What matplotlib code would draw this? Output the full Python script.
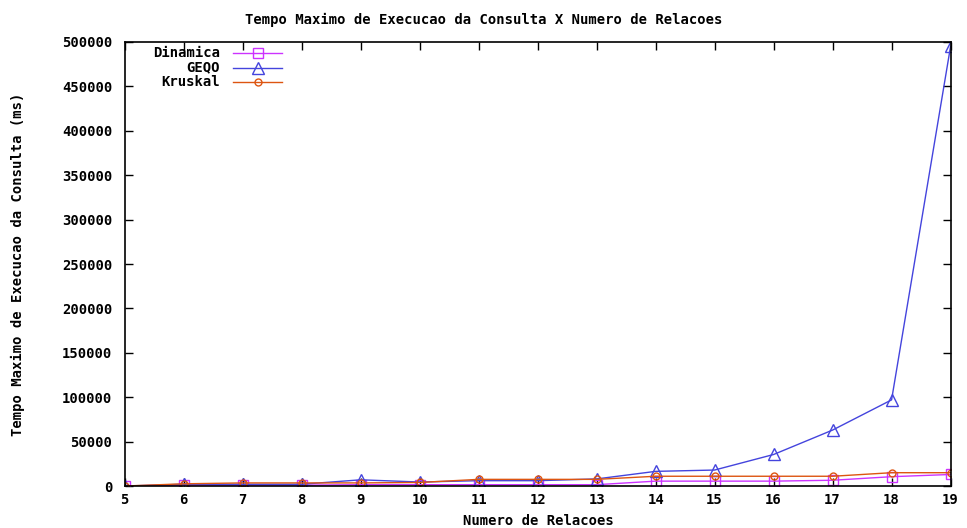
import matplotlib
matplotlib.use("Agg")
import matplotlib.pyplot as plt
from matplotlib.lines import Line2D
from matplotlib.font_manager import FontProperties

# numero de relacoes e tempo maximo (ms) de cada algoritmo
relacoes = [5, 6, 7, 8, 9, 10, 11, 12, 13, 14, 15, 16, 17, 18, 19]
dinamica = [0, 1000, 1000, 1000, 1500, 1500, 1500, 1500, 1500, 5500, 5500, 5500, 6500, 10500, 13000]
geqo = [0, 2000, 2000, 2000, 7000, 4500, 6000, 6000, 8000, 16500, 18000, 35500, 63000, 97000, 495000]
kruskal = [0, 2500, 3500, 3500, 3500, 4000, 7500, 7500, 7500, 11000, 11000, 11000, 11000, 15000, 15000]

fonte = {"family": "DejaVu Sans Mono", "weight": "bold", "size": 10}

fig = plt.figure(figsize=(9.67, 5.28), dpi=100)
ax = fig.add_axes([0.129, 0.0795, 0.854, 0.841])

series = [
    ("Dinamica", dinamica, "#cc33ff", "s", 7),
    ("GEQO", geqo, "#4444dd", "^", 8),
    ("Kruskal", kruskal, "#dd5511", "o", 5),
]
for nome, valores, cor, marca, tam in series:
    ax.plot(relacoes, valores, color=cor, lw=1, marker=marca, ms=tam,
            mfc="none", mec=cor, mew=1)

ax.set_xlim(5, 19)
ax.set_ylim(0, 500000)
ax.set_xticks(relacoes)
ax.set_yticks(range(0, 500001, 50000))
ax.tick_params(axis="x", direction="in", top=True, length=6, width=1, pad=5)
ax.tick_params(axis="y", direction="in", right=True, length=6, width=1, pad=9)
for t in ax.get_xticklabels() + ax.get_yticklabels():
    t.set_fontproperties(FontProperties(**fonte))
for s in ax.spines.values():
    s.set_linewidth(1.2)

fig.text(0.5, 1 - 20 / 528, "Tempo Maximo de Execucao da Consulta X Numero de Relacoes",
         ha="center", va="center", fontdict=fonte)
fig.text(0.557, 1 - 521 / 528, "Numero de Relacoes", ha="center", va="center",
         fontdict=fonte)
fig.text(18 / 967, 0.5, "Tempo Maximo de Execucao da Consulta (ms)",
         ha="center", va="center", rotation=90, fontdict=fonte)

# legenda no estilo do gnuplot: texto alinhado a direita, amostra depois
for i, (nome, valores, cor, marca, tam) in enumerate(series):
    y = 0.975 - i * 0.0325
    ax.text(0.115, y, nome, transform=ax.transAxes, ha="right", va="center",
            fontdict=fonte)
    ax.add_line(Line2D([0.131, 0.191], [y, y], transform=ax.transAxes,
                       color=cor, lw=1))
    ax.add_line(Line2D([0.161], [y], transform=ax.transAxes, marker=marca,
                       ms=tam, mfc="none", mec=cor, mew=1))

fig.savefig("out.png", dpi=100)
